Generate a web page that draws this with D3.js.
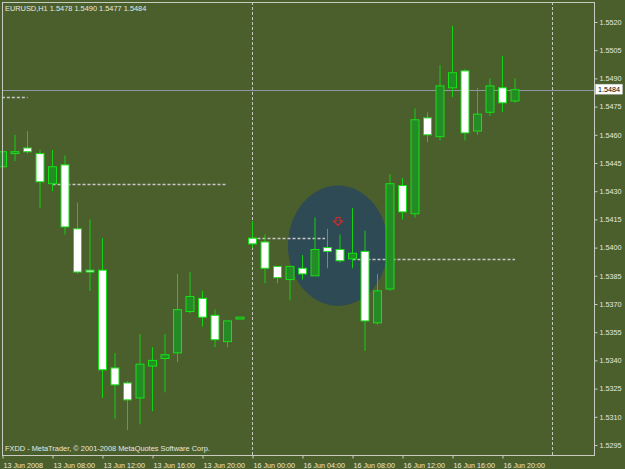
<!DOCTYPE html>
<html>
<head>
<meta charset="utf-8">
<script src="https://cdn.jsdelivr.net/npm/d3@7"></script>
<style>
  html, body { margin: 0; padding: 0; background: #4b5f2d; }
  svg { display: block; }
  text { font-family: "Liberation Sans", Arial, sans-serif; }
</style>
</head>
<body>
<svg id="chart" width="625" height="469"></svg>
<script>
// ---------------- DATA ----------------
const barTimes = [
  "13 Jun 04:00","13 Jun 05:00","13 Jun 06:00","13 Jun 07:00","13 Jun 08:00","13 Jun 09:00",
  "13 Jun 10:00","13 Jun 11:00","13 Jun 12:00","13 Jun 13:00","13 Jun 14:00","13 Jun 15:00",
  "13 Jun 16:00","13 Jun 17:00","13 Jun 18:00","13 Jun 19:00","13 Jun 20:00","13 Jun 21:00",
  "13 Jun 22:00","13 Jun 23:00",
  "16 Jun 00:00","16 Jun 01:00","16 Jun 02:00","16 Jun 03:00","16 Jun 04:00","16 Jun 05:00",
  "16 Jun 06:00","16 Jun 07:00","16 Jun 08:00","16 Jun 09:00","16 Jun 10:00","16 Jun 11:00",
  "16 Jun 12:00","16 Jun 13:00","16 Jun 14:00","16 Jun 15:00","16 Jun 16:00","16 Jun 17:00",
  "16 Jun 18:00","16 Jun 19:00","16 Jun 20:00","16 Jun 21:00"
];
const opens  = [1.5443,1.5450,1.5453,1.5450,1.5434,1.5444,1.5410,1.5388,1.5388,1.5336,1.5328,1.5320,
                1.5337,1.5341,1.5344,1.5366,1.5373,1.5364,1.5350,1.5362,
                1.5405,1.5403,1.5390,1.5383,1.5389,1.5385,1.5400,1.5399,1.5394,1.5398,1.5360,1.5378,
                1.5433,1.5418,1.5469,1.5459,1.5485,1.5494,1.5462,1.5472,1.5485,1.5478];
const highs  = [1.5463,1.5460,1.5462,1.5452,1.5452,1.5449,1.5424,1.5415,1.5405,1.5344,1.5329,1.5354,
                1.5347,1.5354,1.5386,1.5387,1.5377,1.5367,1.5361,1.5363,
                1.5414,1.5407,1.5390,1.5390,1.5396,1.5416,1.5410,1.5407,1.5421,1.5409,1.5386,1.5439,
                1.5437,1.5474,1.5472,1.5497,1.5518,1.5495,1.5485,1.5490,1.5502,1.5490];
const lows   = [1.5436,1.5446,1.5450,1.5421,1.5430,1.5407,1.5386,1.5377,1.5320,1.5309,1.5303,1.5306,
                1.5313,1.5323,1.5339,1.5365,1.5358,1.5347,1.5347,1.5362,
                1.5400,1.5381,1.5381,1.5372,1.5383,1.5385,1.5389,1.5392,1.5389,1.5345,1.5359,1.5377,
                1.5415,1.5416,1.5456,1.5457,1.5480,1.5457,1.5460,1.5470,1.5472,1.5477];
const closes = [1.5451,1.5451,1.5451,1.5435,1.5443,1.5411,1.5387,1.5387,1.5335,1.5327,1.5319,1.5338,
                1.5340,1.5343,1.5367,1.5374,1.5363,1.5351,1.5361,1.5363,
                1.5402,1.5389,1.5384,1.5390,1.5386,1.5399,1.5398,1.5393,1.5397,1.5361,1.5377,1.5434,
                1.5419,1.5468,1.5460,1.5486,1.5493,1.5461,1.5471,1.5486,1.5477,1.5484];

const priceTicks = [1.5520,1.5505,1.5490,1.5475,1.5460,1.5445,1.5430,1.5415,1.5400,1.5385,1.5370,1.5355,1.5340,1.5325,1.5310,1.5295];
const timeTickBars   = [0,4,8,12,16,20,24,28,32,36,40];
const timeTickLabels = ["13 Jun 2008","13 Jun 08:00","13 Jun 12:00","13 Jun 16:00","13 Jun 20:00",
                        "16 Jun 00:00","16 Jun 04:00","16 Jun 08:00","16 Jun 12:00","16 Jun 16:00","16 Jun 20:00"];
const daySeparatorBars = [20, 44];

// objects drawn on chart (bar index / price)
const hLineFrom  = [-0.05, 4, 20, 28];
const hLineTo    = [2, 18, 25.8, 41];
const hLinePrice = [1.5480, 1.5434, 1.5405, 1.5394];
const ellipseCenter = [26.84, 1.5401];
const ellipseRadius = [4.0, 0.0032];
const arrowPos = [26.84, 1.5416];
const bidPrice = 1.5484;
const headerText = "EURUSD,H1  1.5478 1.5490 1.5477 1.5484";
const footerText = "FXDD - MetaTrader, \u00a9 2001-2008 MetaQuotes Software Corp.";

// ---------------- DRAW ----------------
const svg = d3.select("#chart");
const W = 625, H = 469;
const frame = {left: 2, top: 2, right: 594, bottom: 455};

const x = d3.scaleLinear().domain([0, 41]).range([2.5, 515]);
const y = d3.scaleLinear().domain([1.5295, 1.5520]).range([445, 22]);

const bars = barTimes.map((t, i) => ({t, i, o: opens[i], h: highs[i], l: lows[i], c: closes[i]}));

svg.append("rect").attr("width", W).attr("height", H).attr("fill", "#4b5f2d");

const fg = "#e6e8e0";
const lineCol = "#c8ccc0";

// day separators
svg.append("g").selectAll("line").data(daySeparatorBars).join("line")
  .attr("x1", d => Math.round(x(d)) + 0.5 - 1).attr("x2", d => Math.round(x(d)) + 0.5 - 1)
  .attr("y1", frame.top).attr("y2", frame.bottom)
  .attr("stroke", lineCol).attr("stroke-width", 1).attr("stroke-dasharray", "3,2");

// ellipse
svg.append("ellipse")
  .attr("cx", x(ellipseCenter[0])).attr("cy", y(ellipseCenter[1]))
  .attr("rx", x(ellipseCenter[0] + ellipseRadius[0]) - x(ellipseCenter[0]))
  .attr("ry", y(ellipseCenter[1] - ellipseRadius[1]) - y(ellipseCenter[1]))
  .attr("fill", "#2e4a54");

// horizontal dashed lines
svg.append("g").selectAll("line").data(hLinePrice).join("line")
  .attr("x1", (d, i) => x(hLineFrom[i])).attr("x2", (d, i) => x(hLineTo[i]))
  .attr("y1", d => Math.round(y(d)) + 0.5).attr("y2", d => Math.round(y(d)) + 0.5)
  .attr("stroke", "#c8c8c8").attr("stroke-width", 1.3).attr("stroke-dasharray", "3,2");

// bid line
svg.append("line")
  .attr("x1", frame.left).attr("x2", frame.right)
  .attr("y1", Math.round(y(bidPrice)) + 0.5).attr("y2", Math.round(y(bidPrice)) + 0.5)
  .attr("stroke", "#8e98a4").attr("stroke-width", 1);

// candles
const candleG = svg.append("g");
const wickCol = "#12d012";
candleG.selectAll("line.wick").data(bars).join("line")
  .attr("class", "wick")
  .attr("x1", d => x(d.i)).attr("x2", d => x(d.i))
  .attr("y1", d => y(d.h)).attr("y2", d => y(d.l))
  .attr("stroke", wickCol).attr("stroke-width", 1);
candleG.selectAll("rect.body").data(bars).join("rect")
  .attr("class", "body")
  .attr("x", d => x(d.i) - 4).attr("width", 8)
  .attr("y", d => y(Math.max(d.o, d.c)))
  .attr("height", d => Math.max(1, Math.abs(y(d.o) - y(d.c))))
  .attr("fill", d => d.c >= d.o ? "#248c24" : "#ffffff")
  .attr("stroke", "#18e018").attr("stroke-width", 1);

// red arrow (down arrow outline)
const ax = x(arrowPos[0]), ay = y(arrowPos[1]);
svg.append("path")
  .attr("transform", `translate(${ax},${ay})`)
  .attr("d", "M-2,0 L2,0 L2,3.5 L4.5,3.5 L0,8 L-4.5,3.5 L-2,3.5 Z")
  .attr("fill", "none").attr("stroke", "#d42a2a").attr("stroke-width", 1.2);

// frame
svg.append("rect")
  .attr("x", frame.left + 0.5).attr("y", frame.top + 0.5)
  .attr("width", frame.right - frame.left).attr("height", frame.bottom - frame.top)
  .attr("fill", "none").attr("stroke", lineCol).attr("stroke-width", 1);

// right axis
const yAxis = d3.axisRight(y).tickValues(priceTicks).tickSize(3).tickPadding(2)
  .tickFormat(d3.format(".4f"));
const gy = svg.append("g").attr("transform", `translate(${frame.right + 0.5},0)`).call(yAxis);
gy.select(".domain").remove();
gy.selectAll(".tick line").attr("stroke", lineCol);
gy.selectAll(".tick text").attr("fill", fg).attr("font-size", 7.2)
  .attr("font-family", "'Liberation Sans', Arial, sans-serif");

// bid label
const bidG = svg.append("g").attr("transform", `translate(0,${y(bidPrice)})`);
bidG.append("rect").attr("x", 595.5).attr("y", -5.5).attr("width", 27).attr("height", 10)
  .attr("fill", "#ffffff").attr("stroke", "#c8c8c8").attr("stroke-width", 0.5);
bidG.append("text").attr("x", 598).attr("y", 2.5).attr("fill", "#000")
  .attr("font-size", 7.2).text(d3.format(".4f")(bidPrice));

// bottom axis
const xAxis = d3.axisBottom(x).tickValues(timeTickBars).tickSize(3).tickPadding(4)
  .tickFormat((d, i) => timeTickLabels[i]);
const gx = svg.append("g").attr("transform", `translate(0,${frame.bottom + 0.5})`).call(xAxis);
gx.select(".domain").remove();
gx.selectAll(".tick line").attr("stroke", lineCol);
gx.selectAll(".tick text").attr("fill", fg).attr("font-size", 7.2)
  .attr("text-anchor", "start").attr("dx", "0.5")
  .attr("font-family", "'Liberation Sans', Arial, sans-serif");

// header / footer
svg.append("text").attr("x", 5).attr("y", 10.5).attr("fill", fg).attr("font-size", 7.4).text(headerText);
svg.append("text").attr("x", 5).attr("y", 451).attr("fill", fg).attr("font-size", 7.4).text(footerText);
</script>
</body>
</html>
